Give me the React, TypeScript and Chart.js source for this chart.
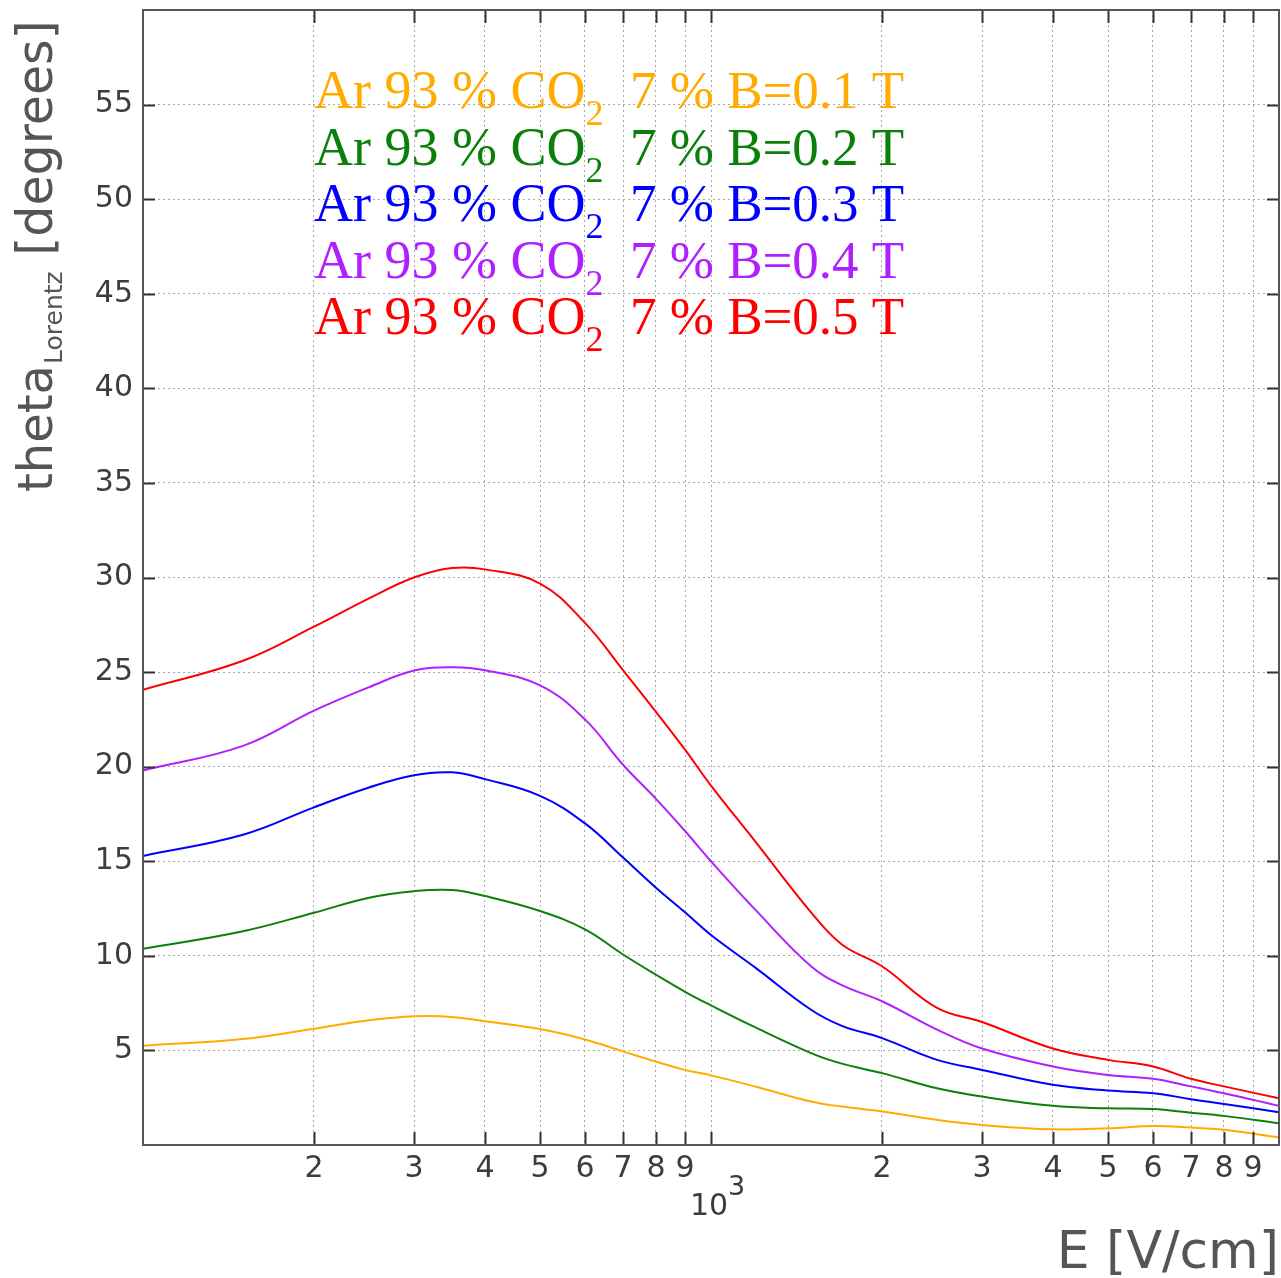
import React, { useEffect, useRef } from 'react';
import { Chart, registerables } from 'chart.js';

Chart.register(...registerables);

// Electric field [V/cm]
const FIELD = [100, 150, 200, 250, 300, 350, 400, 500, 600, 700, 800, 900, 1000, 1200, 1500, 1700, 2000, 2500, 3000, 4000, 5000, 6000, 7000, 8000, 10000];

// Lorentz angle [degrees] for each magnetic field
const THETA_B01 = [5.25, 5.6, 6.15, 6.59, 6.8, 6.77, 6.54, 6.13, 5.58, 4.95, 4.41, 3.97, 3.68, 3.08, 2.3, 2.03, 1.77, 1.33, 1.06, 0.83, 0.88, 1.0, 0.92, 0.8, 0.4];
const THETA_B02 = [10.37, 11.3, 12.28, 13.07, 13.42, 13.48, 13.16, 12.37, 11.4, 10.07, 9.0, 8.1, 7.38, 6.2, 4.86, 4.3, 3.8, 3.0, 2.56, 2.07, 1.94, 1.9, 1.71, 1.54, 1.15];
const THETA_B03 = [15.28, 16.4, 17.85, 18.9, 19.55, 19.7, 19.34, 18.46, 17.0, 15.2, 13.6, 12.3, 11.1, 9.35, 7.15, 6.3, 5.65, 4.5, 3.97, 3.18, 2.88, 2.74, 2.42, 2.17, 1.73];
const THETA_B04 = [19.8, 21.1, 22.96, 24.2, 25.08, 25.26, 25.1, 24.3, 22.5, 20.1, 18.3, 16.6, 15.0, 12.4, 9.45, 8.45, 7.6, 6.1, 5.1, 4.15, 3.7, 3.5, 3.1, 2.74, 2.07];
const THETA_B05 = [24.07, 25.6, 27.4, 28.9, 30.0, 30.5, 30.43, 29.68, 27.6, 25.1, 22.9, 20.9, 19.0, 16.0, 12.3, 10.6, 9.45, 7.25, 6.5, 5.1, 4.5, 4.15, 3.5, 3.1, 2.47];

const B_VALUES = ['0.1', '0.2', '0.3', '0.4', '0.5'];
const SERIES = [THETA_B01, THETA_B02, THETA_B03, THETA_B04, THETA_B05];
const COLORS = ['#ffab00', '#0a800a', '#0000ff', '#b020ff', '#ff0000'];

const X_TICKS = [100, 200, 300, 400, 500, 600, 700, 800, 900, 1000, 2000, 3000, 4000, 5000, 6000, 7000, 8000, 9000, 10000];
const Y_MIN = 0;
const Y_MAX = 60;
const Y_STEP = 5;

const LEGEND_HEAD = 'Ar 93 % CO';
const LEGEND_SUB = '2';
const legendTail = (b: string) => `  7 % B=${b} T`;

const X_TITLE = 'E [V/cm]';
const Y_TITLE_MAIN = 'theta';
const Y_TITLE_SUB = 'Lorentz';
const Y_TITLE_UNIT = ' [degrees]';

const SANS = '"DejaVu Sans"';
const SERIF = '"Liberation Serif"';
const TEXT = '#3c3c3c';

const overlay = {
  id: 'overlay',
  afterDraw(chart: any) {
    const { ctx, chartArea: a, scales } = chart;
    const xs = scales.x;
    const ys = scales.y;
    ctx.save();

    // inward ticks
    ctx.strokeStyle = '#333';
    ctx.lineWidth = 2;
    ctx.beginPath();
    for (let v = Y_MIN + Y_STEP; v < Y_MAX; v += Y_STEP) {
      const py = Math.round(ys.getPixelForValue(v)) + 0.5;
      ctx.moveTo(a.left, py);
      ctx.lineTo(a.left + 12, py);
      ctx.moveTo(a.right, py);
      ctx.lineTo(a.right - 12, py);
    }
    for (const v of X_TICKS) {
      if (v === X_TICKS[0] || v === X_TICKS[X_TICKS.length - 1]) continue;
      const px = Math.round(xs.getPixelForValue(v)) + 0.5;
      ctx.moveTo(px, a.bottom);
      ctx.lineTo(px, a.bottom - 13);
      ctx.moveTo(px, a.top);
      ctx.lineTo(px, a.top + 13);
    }
    ctx.stroke();

    // frame
    ctx.strokeStyle = '#555';
    ctx.lineWidth = 2;
    ctx.strokeRect(a.left, a.top, a.right - a.left, a.bottom - a.top);

    // 10^3 label
    const p1000 = xs.getPixelForValue(1000);
    ctx.fillStyle = TEXT;
    ctx.textAlign = 'left';
    ctx.textBaseline = 'alphabetic';
    ctx.font = `30px ${SANS}`;
    const tenW = ctx.measureText('10').width;
    const tenX = p1000 - tenW / 2 - 2;
    ctx.fillText('10', tenX, a.bottom + 70);
    ctx.font = `27px ${SANS}`;
    ctx.fillText('3', tenX + tenW, a.bottom + 50);

    // x title
    ctx.fillStyle = '#555';
    ctx.font = `52px ${SANS}`;
    ctx.textAlign = 'right';
    ctx.fillText(X_TITLE, a.right, a.bottom + 123);

    // y title (rotated)
    ctx.save();
    ctx.translate(52, a.bottom - 653);
    ctx.rotate(-Math.PI / 2);
    ctx.textAlign = 'left';
    ctx.font = `48px ${SANS}`;
    ctx.fillText(Y_TITLE_MAIN, 0, 0);
    let off = ctx.measureText(Y_TITLE_MAIN).width + 1;
    ctx.font = `25px ${SANS}`;
    ctx.fillText(Y_TITLE_SUB, off, 10);
    off += ctx.measureText(Y_TITLE_SUB).width;
    ctx.font = `49px ${SANS}`;
    ctx.fillText(Y_TITLE_UNIT, off, 0);
    ctx.restore();

    // legend
    ctx.textAlign = 'left';
    const lx = 314;
    const baseY = 108;
    const step = 56.5;
    B_VALUES.forEach((b, i) => {
      const by = baseY + i * step;
      ctx.fillStyle = COLORS[i];
      ctx.font = `54px ${SERIF}`;
      ctx.fillText(LEGEND_HEAD, lx, by);
      let x = lx + ctx.measureText(LEGEND_HEAD).width;
      ctx.font = `36px ${SERIF}`;
      ctx.fillText(LEGEND_SUB, x, by + 17);
      x += ctx.measureText(LEGEND_SUB).width;
      ctx.font = `53px ${SERIF}`;
      ctx.fillText(legendTail(b), x, by);
    });

    ctx.restore();
  },
};

export default function App() {
  const ref = useRef<HTMLCanvasElement | null>(null);

  useEffect(() => {
    if (!ref.current) return;
    const chart = new Chart(ref.current, {
      type: 'line',
      data: {
        datasets: SERIES.map((s, i) => ({
          label: `B=${B_VALUES[i]} T`,
          data: FIELD.map((e, k) => ({ x: e, y: s[k] })),
          borderColor: COLORS[i],
          backgroundColor: COLORS[i],
          borderWidth: 2,
          pointRadius: 0,
          tension: 0.4,
          fill: false,
        })),
      },
      options: {
        responsive: false,
        animation: false,
        events: [],
        layout: { padding: { top: 10, right: 2, left: 0, bottom: 0 } },
        plugins: {
          legend: { display: false },
          title: { display: false },
          tooltip: { enabled: false },
        },
        scales: {
          x: {
            type: 'logarithmic',
            min: 100,
            max: 10000,
            afterBuildTicks: (scale: any) => {
              scale.ticks = X_TICKS.map((v) => ({ value: v }));
            },
            afterFit: (scale: any) => {
              scale.height = 133;
              scale.paddingLeft = 0;
              scale.paddingRight = 0;
            },
            ticks: {
              autoSkip: false,
              maxRotation: 0,
              minRotation: 0,
              padding: 6,
              color: TEXT,
              font: { family: 'DejaVu Sans', size: 30 },
              callback: (v: any) => {
                const val = Number(v);
                const exp = Math.floor(Math.log10(val) + 1e-9);
                const m = Math.round(val / Math.pow(10, exp));
                return m === 1 ? '' : String(m);
              },
            },
            grid: { color: '#a8a8a8', lineWidth: 1, drawTicks: false },
            border: { display: false, dash: [2, 3] },
          },
          y: {
            type: 'linear',
            min: Y_MIN,
            max: Y_MAX,
            afterFit: (scale: any) => {
              scale.width = 143;
              scale.paddingTop = 0;
              scale.paddingBottom = 0;
            },
            ticks: {
              stepSize: Y_STEP,
              padding: 10,
              color: TEXT,
              font: { family: 'DejaVu Sans', size: 30 },
              callback: (v: any) => (v === Y_MIN || v === Y_MAX ? '' : String(v)),
            },
            grid: { color: '#a8a8a8', lineWidth: 1, drawTicks: false },
            border: { display: false, dash: [2, 3] },
          },
        },
      },
      plugins: [overlay],
    } as any);
    return () => chart.destroy();
  }, []);

  return (
    <div style={{ position: 'absolute', left: 0, top: 0, width: 1281, height: 1278, background: '#fff' }}>
      <canvas ref={ref} width={1281} height={1278} style={{ display: 'block' }} />
    </div>
  );
}
